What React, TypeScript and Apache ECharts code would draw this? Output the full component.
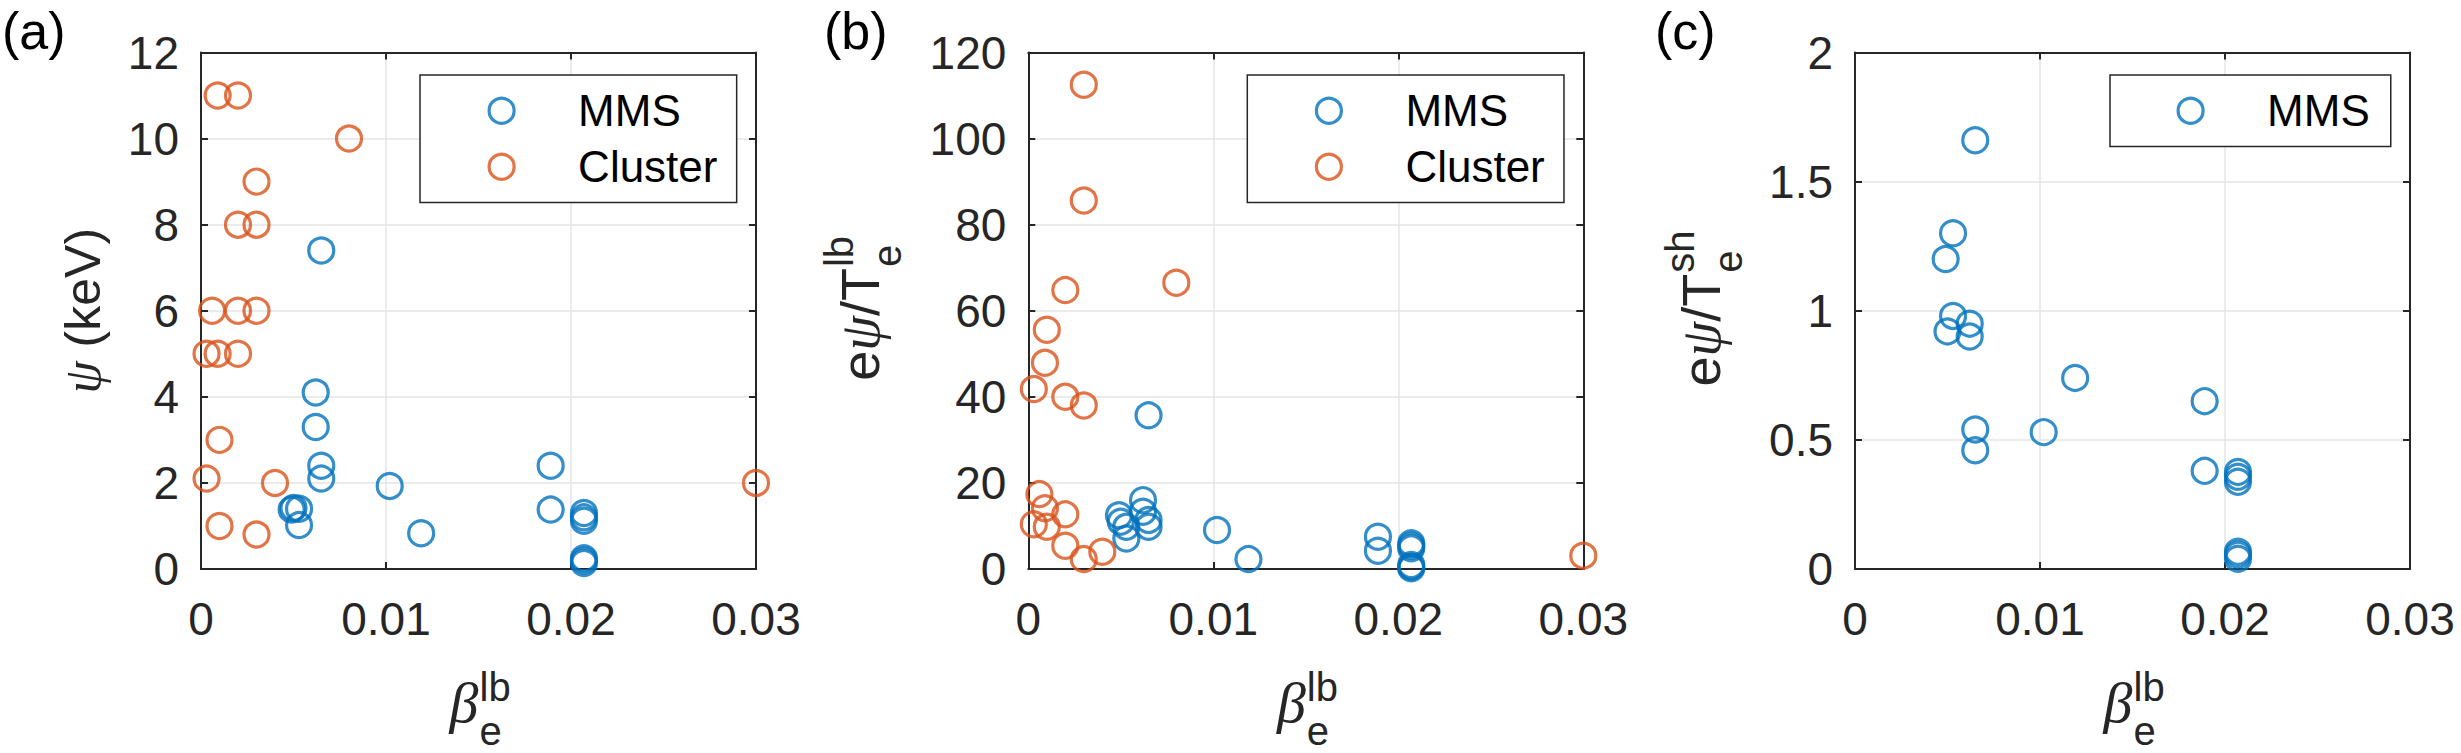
import React, { useEffect, useRef } from 'react';
import * as echarts from 'echarts';

// ---------- data ----------
const mmsBeta = [0.0049, 0.0050, 0.0053, 0.0053, 0.0062, 0.0062, 0.0065, 0.0065, 0.0065, 0.0102, 0.0119, 0.0189, 0.0189, 0.0207, 0.0207, 0.0207, 0.0207, 0.0207, 0.0207];
const mmsPsi = [1.38, 1.42, 1.40, 1.02, 4.10, 3.30, 7.40, 2.40, 2.10, 1.93, 0.83, 2.40, 1.38, 1.30, 1.20, 1.12, 0.25, 0.20, 0.14];
const mmsPsiOverTlb = [12.5, 11.0, 9.8, 7.1, 16.0, 13.3, 35.7, 11.4, 9.8, 9.05, 2.3, 7.5, 4.25, 6.0, 5.4, 4.8, 0.93, 0.5, 0.16];
const mmsPsiOverTsh = [1.20, 0.92, 1.30, 0.98, 0.95, 0.90, 1.66, 0.54, 0.46, 0.53, 0.74, 0.65, 0.38, 0.376, 0.357, 0.338, 0.067, 0.055, 0.04];

const clusterBeta = [0.0003, 0.0003, 0.0006, 0.0009, 0.0009, 0.0010, 0.0010, 0.0020, 0.0020, 0.0020, 0.0020, 0.0030, 0.0030, 0.0030, 0.0030, 0.0040, 0.0080, 0.0300];
const clusterPsi = [5.0, 2.1, 6.0, 11.0, 5.0, 3.0, 1.0, 11.0, 8.0, 6.0, 5.0, 9.0, 8.0, 6.0, 0.8, 2.0, 10.0, 2.0];
const clusterPsiOverTlb = [41.8, 10.4, 17.4, 47.9, 14.1, 55.6, 9.8, 64.8, 40.0, 12.7, 5.4, 112.5, 85.6, 38.0, 2.3, 4.0, 66.5, 3.1];

const xTickLabels = ['0', '0.01', '0.02', '0.03'];
const panelTags = ['(a)', '(b)', '(c)'];
const yMaxes = [12, 120, 2];
const yIntervals = [2, 20, 0.5];

// ---------- style ----------
const BLUE = '#0072BD';
const ORANGE = '#D95319';
const AX = '#262626';
const GRIDC = '#e4e4e4';
const FONT = "'Liberation Sans', Arial, Helvetica, sans-serif";
const SERIF = "'Liberation Serif', 'Times New Roman', serif";

const PLOT_TOP = 52.5;
const PLOT_H = 516.5;
const PLOT_W = 555;
const LEFTS = [201, 1028.3, 1855];
const TICK_FS = 46;
const LABEL_FS = 54;
const SCRIPT_FS = 40;
const LEG_FS = 44;

function pairs(xs: number[], ys: number[]) {
  return xs.map((x, k) => [x, ys[k]]);
}

function scatter(name: string, color: string, data: number[][], panel: number) {
  return {
    type: 'scatter',
    name,
    xAxisIndex: panel * 2,
    yAxisIndex: panel * 2,
    data,
    symbol: 'circle',
    symbolSize: 25,
    itemStyle: { color: 'rgba(0,0,0,0)', borderColor: color, borderWidth: 3.2 },
    emphasis: { disabled: true },
    z: 3,
  };
}

function buildOption() {
  const grid = LEFTS.map((l) => ({ left: l, top: PLOT_TOP, width: PLOT_W, height: PLOT_H }));
  const axisLine = { show: true, onZero: false, lineStyle: { color: AX, width: 2 } };
  const axisTick = { show: true, inside: true, length: 7, lineStyle: { color: AX, width: 2 } };
  const xAxis: any[] = [];
  const yAxis: any[] = [];
  LEFTS.forEach((_, i) => {
    const xBase = { type: 'value', gridIndex: i, min: 0, max: 0.03, interval: 0.01, axisLine, axisTick };
    xAxis.push({
      ...xBase,
      position: 'bottom',
      axisLabel: {
        fontSize: TICK_FS, color: AX, fontFamily: FONT, margin: 27,
        formatter: (v: number) => xTickLabels[Math.round(v / 0.01)],
      },
      splitLine: { show: true, lineStyle: { color: GRIDC, width: 1.5 } },
    });
    xAxis.push({ ...xBase, position: 'top', axisLabel: { show: false }, splitLine: { show: false } });
    const yBase = { type: 'value', gridIndex: i, min: 0, max: yMaxes[i], interval: yIntervals[i], axisLine, axisTick };
    yAxis.push({
      ...yBase,
      position: 'left',
      axisLabel: { fontSize: TICK_FS, color: AX, fontFamily: FONT, margin: 22 },
      splitLine: { show: true, lineStyle: { color: GRIDC, width: 1.5 } },
    });
    yAxis.push({ ...yBase, position: 'right', axisLabel: { show: false }, splitLine: { show: false } });
  });

  const series = [
    scatter('MMS', BLUE, pairs(mmsBeta, mmsPsi), 0),
    scatter('Cluster', ORANGE, pairs(clusterBeta, clusterPsi), 0),
    scatter('MMS', BLUE, pairs(mmsBeta, mmsPsiOverTlb), 1),
    scatter('Cluster', ORANGE, pairs(clusterBeta, clusterPsiOverTlb), 1),
    scatter('MMS', BLUE, pairs(mmsBeta, mmsPsiOverTsh), 2),
  ];

  const legendBase = {
    orient: 'vertical',
    selectedMode: false,
    itemWidth: 25,
    itemHeight: 25,
    itemGap: 0,
    backgroundColor: '#fff',
    borderColor: AX,
    borderWidth: 1.5,
    borderRadius: 0,
    itemStyle: { borderWidth: 3.2 },
    textStyle: { fontSize: LEG_FS, color: '#000', fontFamily: FONT, lineHeight: 56, padding: [0, 0, 0, 59] },
  };
  const legend = [
    { ...legendBase, left: 420, top: 75, padding: [7.7, 19.2, 7.7, 67.5], data: ['MMS', 'Cluster'] },
    { ...legendBase, left: 420 + (LEFTS[1] - LEFTS[0]), top: 75, padding: [7.7, 19.2, 7.7, 67.5], data: ['MMS', 'Cluster'] },
    { ...legendBase, left: 2110, top: 75, padding: [7.8, 21, 7.8, 66.5], data: ['MMS'] },
  ];

  const graphic: any[] = [];
  const tagX = [2, 824, 1655];
  panelTags.forEach((t, i) => {
    graphic.push({
      type: 'text', x: tagX[i], y: 30.5,
      style: { text: t, fontFamily: FONT, fontSize: 52, fill: '#000', align: 'left', verticalAlign: 'middle' },
    });
  });
  // x-axis names: beta_e^lb
  LEFTS.forEach((l) => {
    const cx = l + PLOT_W / 2;
    graphic.push({
      type: 'text', x: cx, y: 702,
      style: { text: 'β', fontFamily: SERIF, fontStyle: 'italic', fontSize: 58, fill: AX, align: 'right', verticalAlign: 'middle' },
    });
    graphic.push({
      type: 'text', x: cx + 1, y: 686.5,
      style: { text: 'lb', fontFamily: FONT, fontSize: SCRIPT_FS, fill: AX, align: 'left', verticalAlign: 'middle' },
    });
    graphic.push({
      type: 'text', x: cx + 1, y: 731,
      style: { text: 'e', fontFamily: FONT, fontSize: SCRIPT_FS, fill: AX, align: 'left', verticalAlign: 'middle' },
    });
  });
  const psiRich = (fs: number) => ({ i: { fontFamily: SERIF, fontStyle: 'italic', fontSize: fs, fill: AX } });
  // (a) y name
  graphic.push({
    type: 'text', x: 82.5, y: PLOT_TOP + PLOT_H / 2, rotation: Math.PI / 2,
    style: { text: '{i|ψ} (keV)', rich: psiRich(52), fontFamily: FONT, fontSize: 50, fill: AX, align: 'center', verticalAlign: 'middle' },
  });
  // (b), (c) y names
  const yNameSpecs = [
    { x: 879, sup: 'lb', a: 42.7 },
    { x: 1720, sup: 'sh', a: 37.1 },
  ];
  yNameSpecs.forEach((s) => {
    graphic.push({
      type: 'group', x: s.x, y: PLOT_TOP + PLOT_H / 2, rotation: Math.PI / 2,
      children: [
        {
          type: 'text', x: s.a, y: -18.7,
          style: { text: 'e{i|ψ}/T', rich: psiRich(LABEL_FS + 2), fontFamily: FONT, fontSize: LABEL_FS, fill: AX, align: 'right', verticalAlign: 'middle' },
        },
        {
          type: 'text', x: s.a + 1, y: -40,
          style: { text: s.sup, fontFamily: FONT, fontSize: SCRIPT_FS, fill: AX, align: 'left', verticalAlign: 'middle' },
        },
        {
          type: 'text', x: s.a + 1, y: 8,
          style: { text: 'e', fontFamily: FONT, fontSize: SCRIPT_FS, fill: AX, align: 'left', verticalAlign: 'middle' },
        },
      ],
    });
  });

  return {
    animation: false,
    backgroundColor: '#fff',
    textStyle: { fontFamily: FONT },
    grid,
    xAxis,
    yAxis,
    legend,
    series,
    graphic,
  };
}

export default function App() {
  const ref = useRef<HTMLDivElement>(null);
  useEffect(() => {
    document.body.style.margin = '0';
    if (!ref.current) return;
    const chart = echarts.init(ref.current, undefined, { renderer: 'svg' });
    chart.setOption(buildOption() as any);
    return () => chart.dispose();
  }, []);
  return <div ref={ref} style={{ position: 'absolute', left: 0, top: 0, width: 2461, height: 753 }} />;
}
